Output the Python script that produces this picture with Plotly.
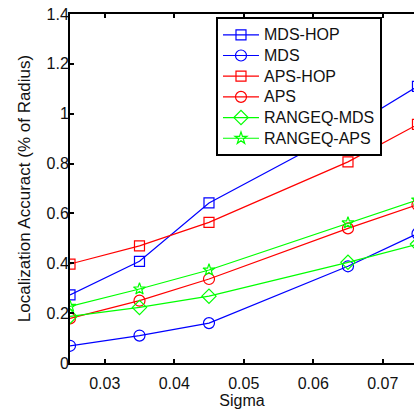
import plotly.graph_objects as go

sigma = [0.025, 0.035, 0.045, 0.065, 0.075]
mds_hop = [0.273, 0.408, 0.642, 0.94, 1.11]
mds = [0.069, 0.110, 0.160, 0.388, 0.519]
aps_hop = [0.397, 0.470, 0.564, 0.807, 0.957]
aps = [0.179, 0.250, 0.337, 0.540, 0.635]
rangeq_mds = [0.187, 0.223, 0.268, 0.404, 0.477]
rangeq_aps = [0.227, 0.297, 0.373, 0.562, 0.654]

series = [
    ("MDS-HOP", mds_hop, "#0000ff", "square-open", 10),
    ("MDS", mds, "#0000ff", "circle-open", 11),
    ("APS-HOP", aps_hop, "#ff0000", "square-open", 10),
    ("APS", aps, "#ff0000", "circle-open", 11),
    ("RANGEQ-MDS", rangeq_mds, "#00ff00", "diamond-open", 11),
    ("RANGEQ-APS", rangeq_aps, "#00ff00", "star-open", 9),
]

FONT = "Liberation Sans, Arial, sans-serif"
TXT = "#111111"

fig = go.Figure()
for name, ys, color, sym, sz in series:
    fig.add_trace(go.Scatter(
        x=sigma, y=ys, name=f'<span style="font-size:16px">{name}</span>',
        mode="lines+markers",
        line=dict(color=color, width=1.2),
        marker=dict(symbol=sym, size=sz, color=color, line=dict(color=color, width=1.2)),
    ))

fig.update_layout(
    width=414, height=413,
    margin=dict(l=70, r=0, t=14, b=50, autoexpand=False),
    paper_bgcolor="white", plot_bgcolor="white",
    font=dict(family=FONT, size=16, color=TXT),
    showlegend=True,
    legend=dict(
        x=0.4244, y=0.99, xanchor="left", yanchor="top",
        bgcolor="white", bordercolor="black", borderwidth=2,
        font=dict(family=FONT, size=13.6, color=TXT),
        tracegroupgap=0, itemwidth=36,
    ),
    xaxis=dict(
        range=[0.025, 0.0745], automargin=False,
        tickvals=[0.03, 0.04, 0.05, 0.06, 0.07],
        ticktext=["0.03", "0.04", "0.05", "0.06", "0.07"],
        ticks="inside", ticklen=4, tickwidth=1.5, tickcolor="black",
        showline=True, linecolor="black", linewidth=2, mirror="ticks",
        showgrid=False, zeroline=False, ticklabelstandoff=5,
        title=dict(text="Sigma", font=dict(family=FONT, size=16, color=TXT), standoff=1),
        tickfont=dict(family=FONT, size=16, color=TXT),
    ),
    yaxis=dict(
        range=[0, 1.4001], automargin=False,
        tickvals=[0, 0.2, 0.4, 0.6, 0.8, 1.0, 1.2, 1.4],
        ticktext=["0", "0.2", "0.4", "0.6", "0.8", "1", "1.2", "1.4"],
        ticks="inside", ticklen=4, tickwidth=1.5, tickcolor="black",
        showline=True, linecolor="black", linewidth=2, mirror=False,
        showgrid=False, zeroline=False, ticklabelstandoff=-4,
        title=dict(text="Localization Accuract (% of Radius)", font=dict(family=FONT, size=17, color=TXT), standoff=12),
        tickfont=dict(family=FONT, size=16, color=TXT),
    ),
)

fig.write_html(
    "out.html",
    config={"displayModeBar": False},
    post_script="document.body.style.margin='0';document.body.style.overflow='hidden';",
)
